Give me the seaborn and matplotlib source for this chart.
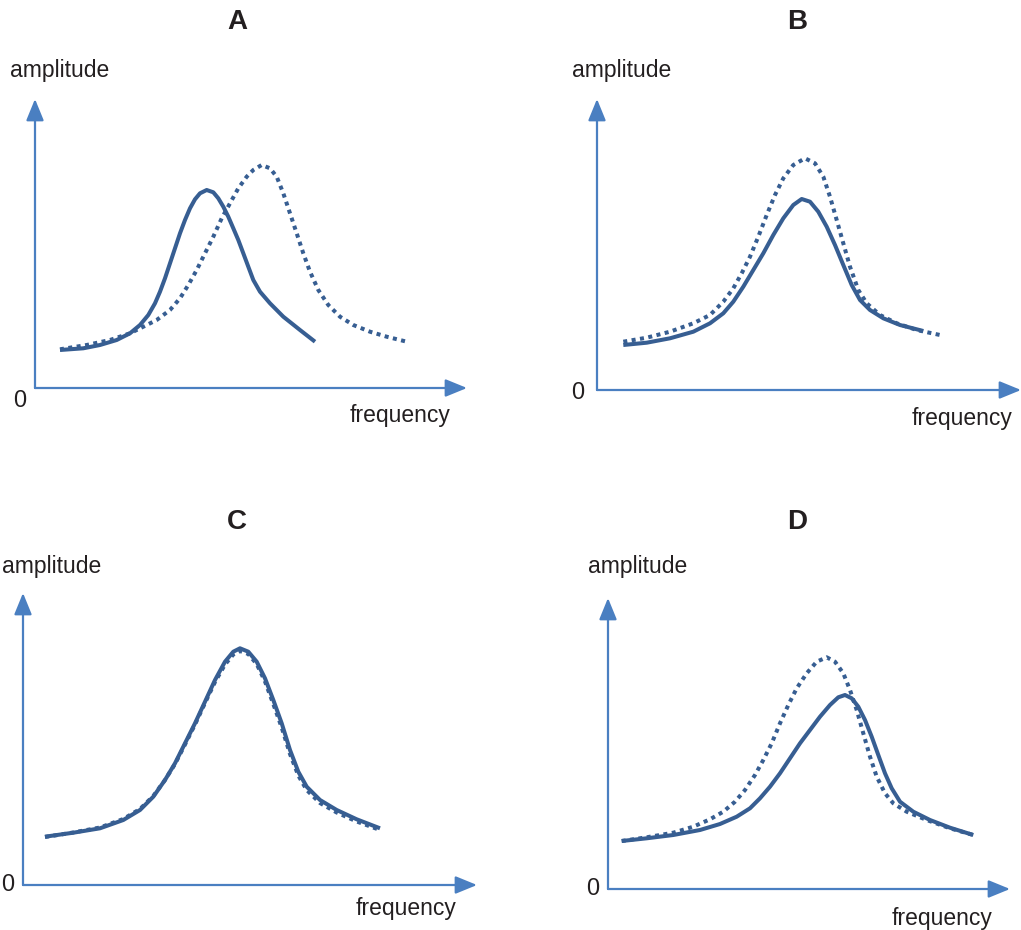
import numpy as np
import pandas as pd
import matplotlib
matplotlib.use("Agg")
import matplotlib.pyplot as plt
import seaborn as sns

sns.set_theme(style="white")
plt.rcParams['font.family'] = ['Liberation Sans', 'DejaVu Sans']

W, H = 1021, 930

# ---- data (frequency, amplitude in panel units) ----
panels = ["A", "B", "C", "D"]

A_solid_f = [25, 48.3, 65, 81.7, 95, 105, 113.3, 120, 125, 130, 135, 140, 145, 150, 155, 160, 165,
             171.7, 178.3, 183.3, 188.3, 193.3, 198.3, 203.3, 208.3, 213.3, 218.3, 225, 235, 248.3, 265, 280]
A_solid_a = [38, 39.7, 43, 48, 54.7, 63, 73, 84.7, 96.3, 109.7, 124.7, 139.7, 154.7, 168, 179.7, 188.7, 194.7,
             198, 195.7, 189.7, 181.3, 171.3, 159.7, 148, 134.7, 121.3, 108, 96.3, 84.7, 71.3, 58, 46.3]

A_dot_f = [25, 51.7, 75, 95, 108.3, 121.7, 135, 145, 153.3, 161.7, 170, 178.3, 186.7, 195, 203.3, 211.7,
           218.3, 226.7, 235, 241.7, 248.3, 255, 261.7, 268.3, 275, 283.3, 293.3, 305, 318.3, 335, 351.7, 371.7]
A_dot_a = [38.7, 43, 48, 54.7, 61.3, 68, 78, 89.7, 103, 118, 134.7, 151.3, 169.7, 184.7, 199.7, 211.3,
           218, 223, 219.7, 211.3, 194.7, 174.7, 154.7, 134.7, 116.3, 98, 83, 71.3, 63, 56.3, 51.3, 46.3]

B_solid_f = [26.3, 49.7, 73, 96.3, 113, 126.3, 136.3, 146.3, 156.3, 166.3, 176.3, 186.3, 196.3, 204.7,
             213, 221.3, 229.7, 238, 246.3, 254.7, 263, 273, 286.3, 303, 326.3]
B_solid_a = [45, 47.3, 51.7, 58.3, 66.7, 76.7, 88.3, 103.3, 120, 136.7, 155, 171.7, 185, 191,
             188.3, 178.3, 163.3, 145, 125, 105, 90, 80, 71.7, 65, 59]

B_dot_f = [26.3, 49.7, 73, 96.3, 113, 126.3, 136.3, 144.7, 153, 161.3, 169.7, 178, 186.3, 196.3, 208,
           218, 226.3, 233, 239.7, 246.3, 253, 261.3, 269.7, 283, 299.7, 319.7, 343]
B_dot_a = [48.3, 52.3, 58.3, 66.7, 75, 88.3, 101.7, 116.7, 133.3, 153.3, 175, 195, 211.7, 225, 231.7,
           226.7, 213.3, 193.3, 170, 146.7, 123.3, 100, 86.7, 75, 66.7, 60, 55]

C_solid_f = [22, 50.3, 77, 100.3, 117, 130.3, 142, 152, 162, 172, 182, 192, 202, 210.3, 217,
             225.3, 233.7, 242, 250.3, 258.7, 267, 275.3, 283.7, 297, 313.7, 333.7, 357]
C_solid_a = [48.3, 52.3, 56.7, 65, 75, 88.3, 105, 121.7, 141.7, 161.7, 183.3, 205, 223.3, 233.3, 236.7,
             233.3, 223.3, 206.7, 185, 161.7, 135, 113.3, 98.3, 85, 75, 65.7, 56.7]

C_dot_f = [22, 50.3, 77, 100.3, 117, 130.3, 142, 152, 162, 172, 182, 192, 202, 210.3, 217,
           225.3, 233.7, 242, 250.3, 258.7, 267, 275.3, 283.7, 297, 313.7, 333.7, 357]
C_dot_a = [48, 52.5, 57.5, 66, 76, 89, 105, 121, 140.5, 160.5, 182, 203, 220.5, 230.5, 234,
           231, 221, 203.5, 181, 157.5, 131, 109.5, 95, 82, 72.5, 63.5, 55]

D_solid_f = [13.7, 38.7, 65.3, 92, 112, 128.7, 142, 152, 162, 172, 182, 192, 202, 212, 222, 230.3, 237,
             243.7, 250.3, 257, 263.7, 270.3, 277, 283.7, 292, 305.3, 322, 342, 365.3]
D_solid_a = [48, 50.7, 54, 59, 65, 72.3, 80.7, 90.7, 102.3, 115.7, 130.7, 145.7, 159, 172.3, 184, 191.7, 194,
             190.7, 182.3, 169, 152.3, 134, 115.7, 100.7, 87.3, 77.3, 69, 61.3, 54]

D_dot_f = [13.7, 38.7, 65.3, 85.3, 102, 115.3, 127, 137, 147, 155.3, 163.7, 172, 180.3, 188.7, 198.7,
           208.7, 218.7, 227, 235.3, 242, 248.7, 255.3, 262, 268.7, 277, 285.3, 298.7, 318.7, 342, 365.3]
D_dot_a = [48, 51.7, 56.3, 62.3, 69.7, 77.3, 87.3, 99, 114, 129, 145.7, 165.7, 184, 200.7, 215.7,
           227.3, 231.7, 227.3, 215.7, 199, 179, 155.7, 132.3, 112.3, 95.7, 85.7, 77.3, 69, 60.7, 54]

solid_f = [A_solid_f, B_solid_f, C_solid_f, D_solid_f]
solid_a = [A_solid_a, B_solid_a, C_solid_a, D_solid_a]
dot_f = [A_dot_f, B_dot_f, C_dot_f, D_dot_f]
dot_a = [A_dot_a, B_dot_a, C_dot_a, D_dot_a]

# ---- layout (pixels): origin x, origin y, x-arrow tip, y-arrow tip ----
origins = [(35, 388, 467, 99), (597, 390, 1021, 99), (23, 885, 477, 593), (608, 889, 1010, 598)]
title_pos = [(237, 22), (797, 22), (237, 522), (797, 522)]
amp_pos = [(10, 70), (572, 70), (2, 567), (588, 567)]
zero_pos = [(20, 401), (578, 393), (8, 885), (593, 889)]
freq_pos = [(451, 415), (1012, 418), (456, 908), (992, 918)]

line_col = "#375e92"
axis_col = "#4a7fc1"
text_col = "#231f20"

fig = plt.figure(figsize=(W / 100, H / 100), dpi=100)

for i, p in enumerate(panels):
    ox, oy, tx, ty = origins[i]
    ax = fig.add_axes([ox / W, 1 - oy / H, (tx - ox) / W, (oy - ty) / H])
    ax.set_xlim(0, tx - ox)
    ax.set_ylim(0, oy - ty)
    ax.axis("off")

    df_s = pd.DataFrame({"frequency": solid_f[i], "amplitude": solid_a[i]})
    df_d = pd.DataFrame({"frequency": dot_f[i], "amplitude": dot_a[i]})
    sns.lineplot(data=df_d, x="frequency", y="amplitude", ax=ax, sort=False,
                 color=line_col, linewidth=2.9, estimator=None)
    ax.lines[-1].set_linestyle((0, (1.0, 1.1)))
    ax.lines[-1].set_dash_capstyle("butt")
    ax.lines[-1].set_dash_joinstyle("round")
    sns.lineplot(data=df_s, x="frequency", y="amplitude", ax=ax, sort=False,
                 color=line_col, linewidth=2.9, estimator=None)
    ax.lines[-1].set_solid_capstyle("butt")
    ax.lines[-1].set_solid_joinstyle("round")

    # axes arrows
    xmax = tx - ox
    ymax = oy - ty
    for tip in [(xmax, 0), (0, ymax)]:
        ax.annotate("", xy=tip, xytext=(0, 0), xycoords="data",
                    arrowprops=dict(arrowstyle="-|>,head_length=1.1,head_width=0.45",
                                    color=axis_col, lw=1.6, shrinkA=0, shrinkB=0),
                    annotation_clip=False)

    fig.text(title_pos[i][0] / W, 1 - title_pos[i][1] / H, p, ha="center", va="center",
             fontsize=20, fontweight="bold", color=text_col)
    fig.text(amp_pos[i][0] / W, 1 - amp_pos[i][1] / H, "amplitude", ha="left", va="center",
             fontsize=16.5, color=text_col)
    fig.text(zero_pos[i][0] / W, 1 - zero_pos[i][1] / H, "0", ha="center", va="center",
             fontsize=17, color=text_col)
    fig.text(freq_pos[i][0] / W, 1 - freq_pos[i][1] / H, "frequency", ha="right", va="center",
             fontsize=16.5, color=text_col)

fig.savefig("out.png", dpi=100)
